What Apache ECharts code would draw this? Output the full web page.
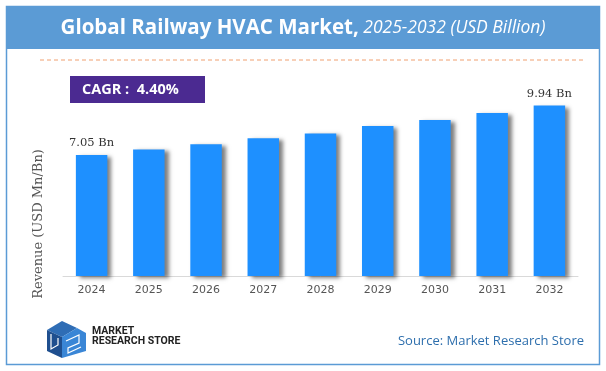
<!DOCTYPE html>
<html><head><meta charset="utf-8">
<script src="https://cdn.jsdelivr.net/npm/echarts@6/dist/echarts.min.js"></script>
<style>html,body{margin:0;padding:0;background:#fff}#c{width:606px;height:371px}</style>
</head><body><div id="c"></div>
<script>
var years = ['2024','2025','2026','2027','2028','2029','2030','2031','2032'];
var revenue = [7.05, 7.38, 7.68, 8.03, 8.31, 8.75, 9.10, 9.50, 9.94];
var titleMain = 'Global Railway HVAC Market,';
var titleSub = ' 2025-2032 (USD Billion)';
var cagrText = 'CAGR :  4.40%';
var sourceText = 'Source: Market Research Store';
var yAxisName = 'Revenue (USD Mn/Bn)';

var chart = echarts.init(document.getElementById('c'), null, {renderer:'canvas'});
var last = revenue.length - 1;
chart.setOption({
  animation:false,
  backgroundColor:'#fff',
  grid:{left:63, right:28, top:104.5, bottom:95},
  xAxis:{type:'category', data:years,
    axisLine:{lineStyle:{color:'#d9d9d9', width:1}},
    axisTick:{show:false},
    axisLabel:{color:'#555', fontFamily:'DejaVu Sans', fontSize:11, margin:9}},
  yAxis:{type:'value', min:0, max:10, show:true,
    axisLine:{show:false}, axisTick:{show:false}, axisLabel:{show:false}, splitLine:{show:false}},
  series:[{type:'bar', data:revenue, barWidth:'55%',
    itemStyle:{color:'#1e90ff', shadowColor:'rgba(0,0,0,0.5)', shadowBlur:4, shadowOffsetX:4, shadowOffsetY:2},
    label:{show:true, position:'top', distance:6, color:'#333', fontFamily:'DejaVu Serif', fontSize:11.5,
      formatter:function(p){ return (p.dataIndex===0||p.dataIndex===last) ? p.value.toFixed(2)+' Bn' : ''; }}
  }],
  graphic:[
    {type:'rect', shape:{x:6.5,y:6.5,width:593,height:358}, style:{fill:'none', stroke:'#5b9bd5', lineWidth:1.5}, z:10},
    {type:'rect', shape:{x:6,y:6,width:594,height:43}, style:{fill:'#5b9bd5'}, z:10},
    {type:'text', x:303, y:28, z:11, style:{
      text:'{a|'+titleMain+'}{b|'+titleSub+'}', align:'center', verticalAlign:'middle',
      rich:{a:{fill:'#fff', fontFamily:'Open Sans', fontWeight:'bold', fontSize:20.5},
            b:{fill:'#fff', fontFamily:'Open Sans', fontStyle:'italic', fontSize:17.5}}}},
    {type:'line', shape:{x1:40,y1:60,x2:583,y2:60}, style:{stroke:'#f0a070', lineWidth:1, lineDash:[4,3]}, z:10},
    {type:'rect', shape:{x:70,y:76,width:135,height:27}, style:{fill:'#4b2a91'}, z:10},
    {type:'text', x:82, y:90, z:11, style:{text:cagrText, fill:'#fff', fontFamily:'Open Sans', fontWeight:'bold', fontSize:14.5, verticalAlign:'middle'}},
    {type:'text', x:39, y:224, rotation:Math.PI/2, z:11, style:{text:yAxisName, fill:'#555', fontFamily:'DejaVu Serif', fontSize:13, align:'center', verticalAlign:'middle'}},
    {type:'polygon', shape:{points:[[47,330],[62,321],[77,328],[62,337]]}, style:{fill:'#2f6db5'}, z:10},
    {type:'polygon', shape:{points:[[47,330],[62,337],[62,358],[47,351]]}, style:{fill:'#1f4f8f'}, z:10},
    {type:'polygon', shape:{points:[[62,337],[77,328],[86,333],[86,351],[62,358]]}, style:{fill:'#3a86d6'}, z:10},
    {type:'polyline', shape:{points:[[51,334],[51,349],[58,345],[58,338]]}, style:{stroke:'#fff', lineWidth:1.2, fill:'none'}, z:11},
    {type:'polyline', shape:{points:[[66,341],[79,335],[79,343],[68,348],[68,353],[81,347]]}, style:{stroke:'#fff', lineWidth:1.2, fill:'none'}, z:11},
    {type:'text', x:92, y:331, z:11, style:{text:'MARKET', fill:'#222', fontFamily:'Roboto', fontWeight:'bold', fontSize:10.5, verticalAlign:'middle'}},
    {type:'text', x:92, y:341, z:11, style:{text:'RESEARCH STORE', fill:'#222', fontFamily:'Roboto', fontWeight:'bold', fontSize:10.5, verticalAlign:'middle'}},
    {type:'text', x:584, y:341, z:11, style:{text:sourceText, fill:'#2e6fad', fontFamily:'Open Sans', fontSize:13, align:'right', verticalAlign:'middle'}}
  ]
});
</script></body></html>
